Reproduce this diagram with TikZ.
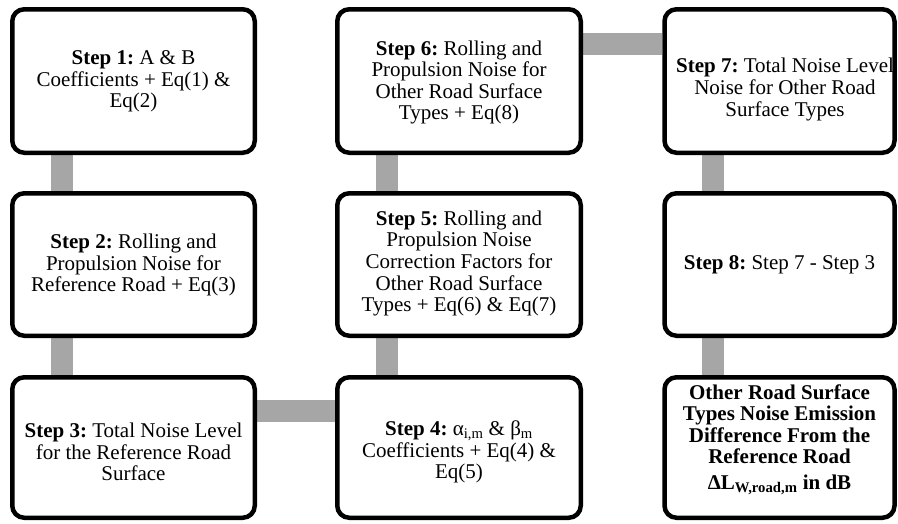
\documentclass[tikz,border=0pt]{standalone}
\usepackage{fontspec}
\setmainfont{Liberation Serif}
\usetikzlibrary{backgrounds,calc}
\frenchspacing
\definecolor{conngray}{HTML}{A6A6A6}
\tikzset{
  box/.style={draw=black, fill=white, line width=4.5pt, rounded corners=12pt,
    rectangle, inner sep=0pt},
  c1box/.style={box, minimum width=242.5pt},
  c2box/.style={box, minimum width=243.5pt},
  c3box/.style={box, minimum width=230pt},
  r1box/.style={minimum height=143.5pt},
  r2box/.style={minimum height=142.5pt},
  r3box/.style={minimum height=140.5pt},
  txt/.style={align=center, font=\fontsize{21}{21.6}\selectfont\frenchspacing, inner sep=0pt},
  conn/.style={draw=conngray, line width=22pt}
}
\begin{document}
\begin{tikzpicture}[x=1pt,y=-1pt]
\useasboundingbox (0,0) rectangle (898,523);
% boxes
\node[c1box,r1box] (b1) at (133.5,81) {};
\node[c1box,r2box] (b2) at (133.5,264.5) {};
\node[c1box,r3box] (b3) at (133.5,447.5) {};
\node[c2box,r3box] (b4) at (459,447.5) {};
\node[c2box,r2box] (b5) at (459,264.5) {};
\node[c2box,r1box] (b6) at (459,81) {};
\node[c3box,r1box] (b7) at (779.5,81) {};
\node[c3box,r2box] (b8) at (779.5,264.5) {};
\node[c3box,r3box] (b9) at (779.5,447.5) {};
% texts
\node[txt] (t1) at ($(b1)+(0,0.5)$) {\textbf{Step 1:} A \& B\\Coefficients + Eq(1) \&\\Eq(2)};
\node[txt] (t2) at ($(b2)+(0,0.5)$) {\textbf{Step 2:} Rolling and\\Propulsion Noise for\\Reference Road + Eq(3)};
\node[txt] (t3) at ($(b3)+(0,4.5)$) {\textbf{Step 3:} Total Noise Level\\for the Reference Road\\Surface};
\node[txt] (t4) at ($(b4)+(0,4.5)$) {\textbf{Step 4:} α\textsubscript{i,m} \& β\textsubscript{m}\\Coefficients + Eq(4) \&\\Eq(5)};
\node[txt] (t5) at ($(b5)+(0,-1)$) {\textbf{Step 5:} Rolling and\\Propulsion Noise\\Correction Factors for\\Other Road Surface\\Types + Eq(6) \& Eq(7)};
\node[txt] (t6) at ($(b6)+(0,1.5)$) {\textbf{Step 6:} Rolling and\\Propulsion Noise for\\Other Road Surface\\Types + Eq(8)};
\node[txt] (t7) at ($(b7)+(5.5,8.5)$) {\textbf{Step 7:} Total Noise Level\\Noise for Other Road\\Surface Types};
\node[txt] (t8) at ($(b8)+(0,0.5)$) {\textbf{Step 8:} Step 7 - Step 3};
\node[txt, font=\fontsize{21}{21.6}\selectfont\bfseries\frenchspacing] (t9) at ($(b9)+(0,-8)$) {Other Road Surface\\Types Noise Emission\\Difference From the\\Reference Road\\[4pt]ΔL\textsubscript{W,road,m} in dB};
% connectors
\coordinate (x1) at (61.5,0);
\coordinate (x2) at (386.5,0);
\coordinate (x3) at (712.5,0);
\coordinate (y34) at (0,411);
\coordinate (y67) at (0,44);
\begin{scope}[on background layer]
\draw[conn] (b1.south -| x1) -- (b2.north -| x1);
\draw[conn] (b2.south -| x1) -- (b3.north -| x1);
\draw[conn] (b3.east |- y34) -- (b4.west |- y34);
\draw[conn] (b4.north -| x2) -- (b5.south -| x2);
\draw[conn] (b5.north -| x2) -- (b6.south -| x2);
\draw[conn] (b6.east |- y67) -- (b7.west |- y67);
\draw[conn] (b7.south -| x3) -- (b8.north -| x3);
\draw[conn] (b8.south -| x3) -- (b9.north -| x3);
\end{scope}
\end{tikzpicture}
\end{document}
